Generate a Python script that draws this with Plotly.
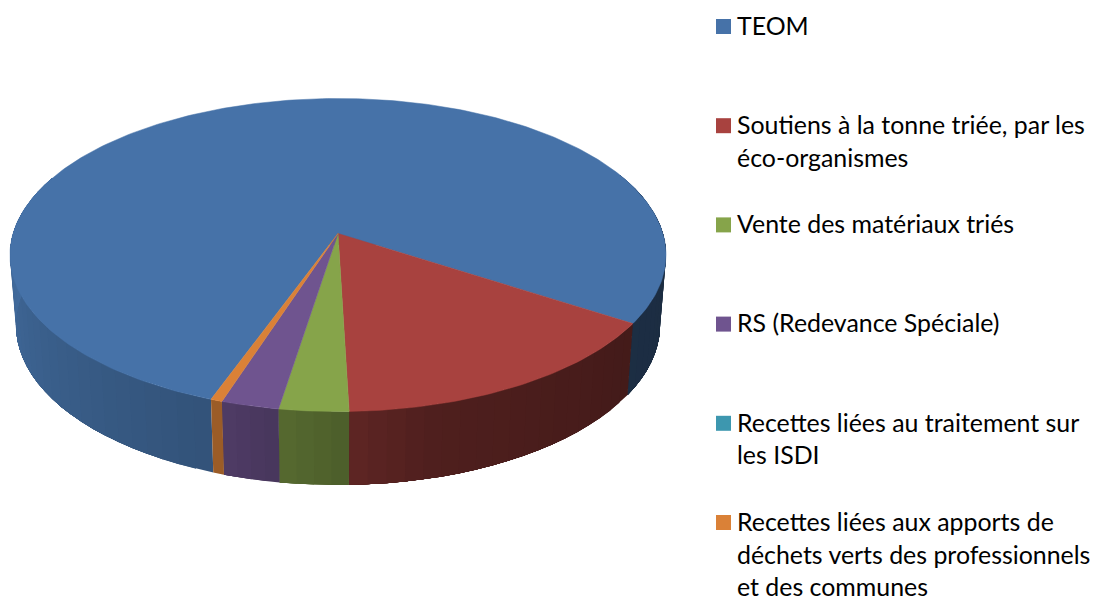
import math
import plotly.graph_objects as go

# --- data ---
categories = ["TEOM",
              "Soutiens à la tonne triée, par les éco-organismes",
              "Vente des matériaux triés",
              "RS (Redevance Spéciale)",
              "Recettes liées au traitement sur les ISDI",
              "Recettes liées aux apports de déchets verts des professionnels et des communes"]
values = [78.6, 15.4, 3.0, 2.5, 0.0, 0.5]
colors = ["#4672A8", "#A8423F", "#86A44A", "#6F548F", "#3D97AF", "#DA8137"]
legend_lines = [["TEOM"],
                ["Soutiens à la tonne triée, par les", "éco-organismes"],
                ["Vente des matériaux triés"],
                ["RS (Redevance Spéciale)"],
                ["Recettes liées au traitement sur", "les ISDI"],
                ["Recettes liées aux apports de", "déchets verts des professionnels", "et des communes"]]

# --- styling / projection of the pie ---
W, H = 1094, 597
START_DEG = 340.1          # angle of the first slice, measured from the front
CX = 338
PERSP = -0.1374
TOP = dict(a=121.5, b=233.5, d=324.9)
BOT = dict(a=115.4, b=303.0, d=319.0)
SHADE = [(-115, 1.0), (-20, 0.72), (0, 0.58), (14, 0.47), (57, 0.40), (115, 0.38)]
LEG_X, LEG_SQ, LEG_TXT_X = 716, 15, 737
LEG_Y0, LEG_PITCH, LINE_H = 26.5, 99.2, 32.8
TEXT_DY = -1.8
FONT = "Lato, Carlito, Calibri, sans-serif"
FONT_SIZE = 24.9


def proj(theta_deg, p):
    t = math.radians(theta_deg)
    u, v = math.sin(t), math.cos(t)
    w = 1 + PERSP * v
    return CX + p["d"] * u / w, (p["a"] * v + p["b"]) / w


def shade(theta):
    th = (theta + 180) % 360 - 180
    for (t0, f0), (t1, f1) in zip(SHADE, SHADE[1:]):
        if t0 <= th <= t1:
            return f0 + (f1 - f0) * (th - t0) / (t1 - t0)
    return None


def scaled(hexcol, f):
    r, g, b = (int(hexcol[i:i + 2], 16) for i in (1, 3, 5))
    return f"rgb({r * f:.0f},{g * f:.0f},{b * f:.0f})"


def arange(a0, a1, step=1.5):
    n = max(2, int(abs(a1 - a0) / step) + 2)
    return [a0 + (a1 - a0) * i / (n - 1) for i in range(n)]


total = sum(values)
slices = []
ang = START_DEG
for val, col, name in zip(values, colors, categories):
    sweep = 360 * val / total
    slices.append((ang, ang - sweep, col, name))
    ang -= sweep

fig = go.Figure()
NOLINE = dict(width=0)

# walls: each strip runs on to the end of its slice, so the next strip paints
# over it and no seam can show between neighbouring strips
for a0, a1, col, name in slices:
    if a0 == a1:
        continue
    ths = arange(a0, a1, 3.0)
    for t0, t1 in zip(ths, ths[1:]):
        f = shade((t0 + t1) / 2)
        if f is None:
            continue
        arc = arange(t0, a1, 3.0)
        arc = [t for t in arc if shade(t) is not None] or [t0]
        if len(arc) > 12:
            arc = arc[:12]
        pts = [proj(t, TOP) for t in arc] + [proj(t, BOT) for t in reversed(arc)]
        pts.append(pts[0])
        fig.add_trace(go.Scatter(x=[p[0] for p in pts], y=[p[1] for p in pts], mode="lines",
                                 fill="toself", fillcolor=scaled(col, f), line=NOLINE,
                                 hoverinfo="skip", showlegend=False))

# top faces
for a0, a1, col, name in slices:
    if a0 == a1:
        continue
    apex = (CX, TOP["b"])
    pts = [apex] + [proj(t, TOP) for t in arange(a0, a1, 1.0)] + [apex]
    fig.add_trace(go.Scatter(x=[p[0] for p in pts], y=[p[1] for p in pts], mode="lines",
                             fill="toself", fillcolor=col, line=dict(color=col, width=0.5),
                             name=name, hoverinfo="name", showlegend=False))

# legend
shapes, annots = [], []
for i, (lines, col) in enumerate(zip(legend_lines, colors)):
    yc = LEG_Y0 + LEG_PITCH * i
    shapes.append(dict(type="rect", xref="x", yref="y", x0=LEG_X, x1=LEG_X + LEG_SQ,
                       y0=yc - LEG_SQ / 2, y1=yc + LEG_SQ / 2, fillcolor=col, line_width=0))
    for j, line in enumerate(lines):
        annots.append(dict(x=LEG_TXT_X, y=yc + j * LINE_H + TEXT_DY, xref="x", yref="y", text=line,
                           showarrow=False, xanchor="left", yanchor="middle",
                           borderpad=0, borderwidth=0,
                           font=dict(family=FONT, size=FONT_SIZE, color="#000000")))

fig.update_layout(width=W, height=H, margin=dict(l=0, r=0, t=0, b=0),
                  paper_bgcolor="white", plot_bgcolor="white", showlegend=False,
                  xaxis=dict(range=[0, W], visible=False, fixedrange=True),
                  yaxis=dict(range=[H, 0], visible=False, fixedrange=True),
                  shapes=shapes, annotations=annots)

fig.write_html("out.html", config=dict(displayModeBar=False),
               post_script="document.body.style.margin='0';document.body.style.overflow='hidden';")
